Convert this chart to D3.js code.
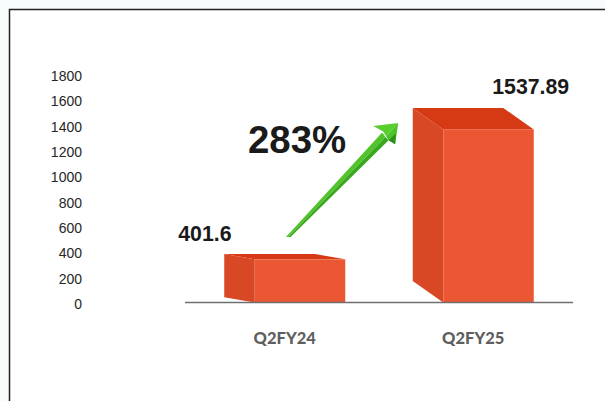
<!DOCTYPE html>
<html>
<head>
<meta charset="utf-8">
<script src="https://cdn.jsdelivr.net/npm/d3@7"></script>
<style>
	html, body { margin: 0; padding: 0; background: #f8fbfb; overflow: hidden; }
	text { font-family: "Liberation Sans", Arial, sans-serif; }
</style>
</head>
<body>
<svg id="chart" width="605" height="401"></svg>
<script>
// values
var categories = ['Q2FY24', 'Q2FY25'];
var values     = [401.6, 1537.89];
var valueText  = ['401.6', '1537.89'];
var yTicks     = [0, 200, 400, 600, 800, 1000, 1200, 1400, 1600, 1800];
var growthText = '283%';

var svg = d3.select('#chart');

var baseY  = 302.5;
var depthX = 30.5;
var slant  = 0.11;   // how far the front face drops, as a share of the bar height

var y = d3.scaleLinear().domain([0, 1800]).range([304, 76]);
// the bars sit on a slightly steeper scale than the printed axis labels
var yBar = d3.scaleLinear().domain([0, 1800]).range([305.6, 74.3]);
var x = d3.scaleBand().domain(categories).range([190.5, 567.5]).paddingInner(0.358).paddingOuter(0.179);

var bars = categories.map(function (c, i) {
	var top = yBar(values[i]);
	return { cat: c, label: valueText[i], x0: x(c), top: top, dy: slant * (baseY - top) };
});

// panel
svg.append('rect').attr('x', 9.5).attr('y', 9.5).attr('width', 640).attr('height', 440)
	.attr('fill', 'white').attr('stroke', '#222').attr('stroke-width', 1.5);

// y axis, labels only
var yAxis = svg.append('g').attr('transform', 'translate(82,0)')
	.call(d3.axisLeft(y).tickValues(yTicks).tickSize(0).tickPadding(0).tickFormat(d3.format('d')));
yAxis.select('.domain').remove();
yAxis.selectAll('text').style('font-family', '"Liberation Sans", Arial, sans-serif')
	.style('font-size', '14px').attr('fill', '#262626');

// 3d bars
var poly = d3.line();
var bar = svg.selectAll('.bar').data(bars).enter().append('g').attr('class', 'bar');

bar.append('path').attr('fill', '#d84825').attr('d', function (d) {
	var xf = d.x0 + depthX;
	return poly([[d.x0, d.top], [xf, d.top + d.dy], [xf, baseY], [d.x0, baseY - d.dy]]) + 'Z';
});
bar.append('path').attr('fill', '#d63a14').attr('d', function (d) {
	var xr = d.x0 + x.bandwidth();
	return poly([[d.x0, d.top], [xr - depthX, d.top], [xr, d.top + d.dy], [d.x0 + depthX, d.top + d.dy]]) + 'Z';
});
bar.append('rect').attr('fill', '#eb5733')
	.attr('x', function (d) { return d.x0 + depthX; })
	.attr('y', function (d) { return d.top + d.dy; })
	.attr('width', x.bandwidth() - depthX)
	.attr('height', function (d) { return baseY - d.top - d.dy; });

// baseline
svg.append('line').attr('x1', 185).attr('x2', 573).attr('y1', baseY).attr('y2', baseY)
	.attr('stroke', '#6f6f6f').attr('stroke-width', 1.5);

// category labels
svg.selectAll('.cat').data(categories).enter().append('text').attr('class', 'cat')
	.attr('x', function (c) { return x(c) + x.bandwidth() / 2; })
	.attr('y', 344).attr('text-anchor', 'middle')
	.style('font-family', 'Lato, sans-serif').style('font-weight', 900).style('font-size', '16.5px')
	.attr('fill', '#5f5f5f').text(function (c) { return c; });

// value labels
svg.append('text').attr('x', bars[0].x0 - 46).attr('y', bars[0].top - 13)
	.style('font-weight', 700).style('font-size', '21.3px').attr('fill', '#1a1a1a').text(bars[0].label);
svg.append('text').attr('x', bars[1].x0 + 79.5).attr('y', bars[1].top - 14)
	.style('font-weight', 700).style('font-size', '21.3px').attr('fill', '#1a1a1a').text(bars[1].label);

svg.append('text').attr('x', 248).attr('y', 153)
	.style('font-weight', 700).style('font-size', '38.4px').attr('fill', '#1a1a1a').text(growthText);

// growth arrow, tail above first bar, tip next to second bar
var tail = [bars[0].x0 + 64, bars[0].top - 17];
var tip  = [bars[1].x0 - 14.5, bars[1].top + 15];
var len  = Math.hypot(tip[0] - tail[0], tip[1] - tail[1]);
var ux   = (tip[0] - tail[0]) / len, uy = (tip[1] - tail[1]) / len;

// a = distance back from the tip along the arrow, b = distance to the lower right of it
function pt(a, b) {
	return [tip[0] - ux * a - uy * b, tip[1] - uy * a + ux * b];
}
var arrow = svg.append('g');
function facet(points, fill) {
	arrow.append('path').attr('d', poly(points) + 'Z').attr('fill', fill);
}
facet([pt(len + 1.6, -1.65), pt(len, 0), pt(19, 0.5), pt(18, -5)], '#52c42b');
facet([pt(len, 0), pt(len - 1.6, 1.65), pt(19, 5), pt(19, 0.5)], '#3aa81e');
facet([pt(0, 0), pt(19.5, -16), pt(16.5, -5), pt(18, 0.5)], '#58cf2e');
facet([pt(0, 0), pt(18, 0.5), pt(19, 5), pt(17.5, 12.5)], '#4cc429');
facet([pt(9, 5.5), pt(19, 5), pt(17.5, 12.5)], '#2f8f1c');
</script>
</body>
</html>
